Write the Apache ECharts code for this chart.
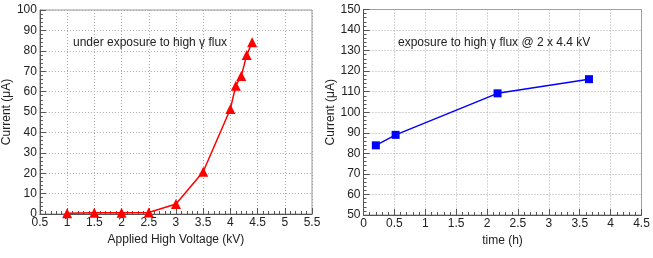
<!DOCTYPE html>
<html><head><meta charset="utf-8">
<script src="https://cdn.jsdelivr.net/npm/echarts@6/dist/echarts.min.js"></script>
<style>html,body{margin:0;padding:0;background:#fff}#c{width:653px;height:258px}</style>
</head><body><div id="c"></div>
<script>
// Left panel: current vs applied voltage
const voltage = [1, 1.5, 2, 2.5, 3, 3.5, 4, 4.1, 4.2, 4.3, 4.4];
const currentV = [0.4, 0.6, 0.6, 0.7, 4.9, 20.7, 51.5, 62.9, 67.6, 77.9, 84.2];
// Right panel: current vs time
const timeH = [0.2, 0.52, 2.17, 3.65];
const currentT = [83.9, 89.0, 109.2, 116.1];
const leftLabel = 'under exposure to high γ flux';
const rightLabel = 'exposure to high γ flux @ 2 x 4.4 kV';

const FONT = 'Liberation Sans, Arial, sans-serif';
const TXT = '#222';
function xAx(grid, min, max, name, gap) {
  return {
    type: 'value', gridIndex: grid, min: min, max: max, interval: 0.5,
    name: name, nameLocation: 'middle', nameGap: gap,
    nameTextStyle: {fontFamily: FONT, fontSize: 12, color: TXT},
    axisLine: {show: true, lineStyle: {color: '#555', width: 1}},
    axisTick: {show: true, inside: true, length: 6, lineStyle: {color: '#555'}},
    minorTick: {show: true, splitNumber: 5, length: 3, lineStyle: {color: '#555'}},
    axisLabel: {fontFamily: FONT, fontSize: 12, color: TXT, margin: 3, showMinLabel: true, showMaxLabel: true},
    splitLine: {show: true, lineStyle: {color: '#aaa', type: [1, 2], width: 1}}
  };
}
function yAx(grid, min, max, gap) {
  return {
    type: 'value', gridIndex: grid, min: min, max: max, interval: 10,
    name: 'Current (μA)', nameLocation: 'middle', nameGap: gap,
    nameTextStyle: {fontFamily: FONT, fontSize: 12, color: TXT},
    axisLine: {show: true, lineStyle: {color: '#555', width: 1}},
    axisTick: {show: true, inside: true, length: 6, lineStyle: {color: '#555'}},
    minorTick: {show: true, splitNumber: 5, length: 3, lineStyle: {color: '#555'}},
    axisLabel: {fontFamily: FONT, fontSize: 12, color: TXT, margin: 3, showMinLabel: true, showMaxLabel: true},
    splitLine: {show: true, lineStyle: {color: '#aaa', type: [1, 2], width: 1}}
  };
}
const chart = echarts.init(document.getElementById('c'), null, {renderer: 'canvas'});
chart.setOption({
  animation: false,
  backgroundColor: '#fff',
  title: [
    {text: leftLabel, left: 73, top: 37, textStyle: {fontFamily: FONT, fontSize: 12, fontWeight: 'normal', color: TXT}, padding: 0},
    {text: rightLabel, left: 398, top: 37, textStyle: {fontFamily: FONT, fontSize: 12, fontWeight: 'normal', color: TXT}, padding: 0}
  ],
  grid: [
    {left: 39.5, right: 341, top: 10, bottom: 44, show: true, borderColor: '#999', borderWidth: 1},
    {left: 363.5, right: 11.5, top: 9.5, bottom: 43, show: true, borderColor: '#999', borderWidth: 1}
  ],
  xAxis: [xAx(0, 0.5, 5.5, 'Applied High Voltage (kV)', 19), xAx(1, 0, 4.5, 'time (h)', 20)],
  yAxis: [yAx(0, 0, 100, 21), yAx(1, 50, 150, 17)],
  series: [
    {type: 'line', xAxisIndex: 0, yAxisIndex: 0, data: voltage.map((v, i) => [v, currentV[i]]),
     symbol: 'triangle', symbolSize: 10, lineStyle: {color: '#ff0000', width: 1.5},
     itemStyle: {color: '#ff0000'}},
    {type: 'line', xAxisIndex: 1, yAxisIndex: 1, data: timeH.map((v, i) => [v, currentT[i]]),
     symbol: 'rect', symbolSize: 8, lineStyle: {color: '#0000ff', width: 1.5},
     itemStyle: {color: '#0000ff'}}
  ]
});
</script></body></html>
